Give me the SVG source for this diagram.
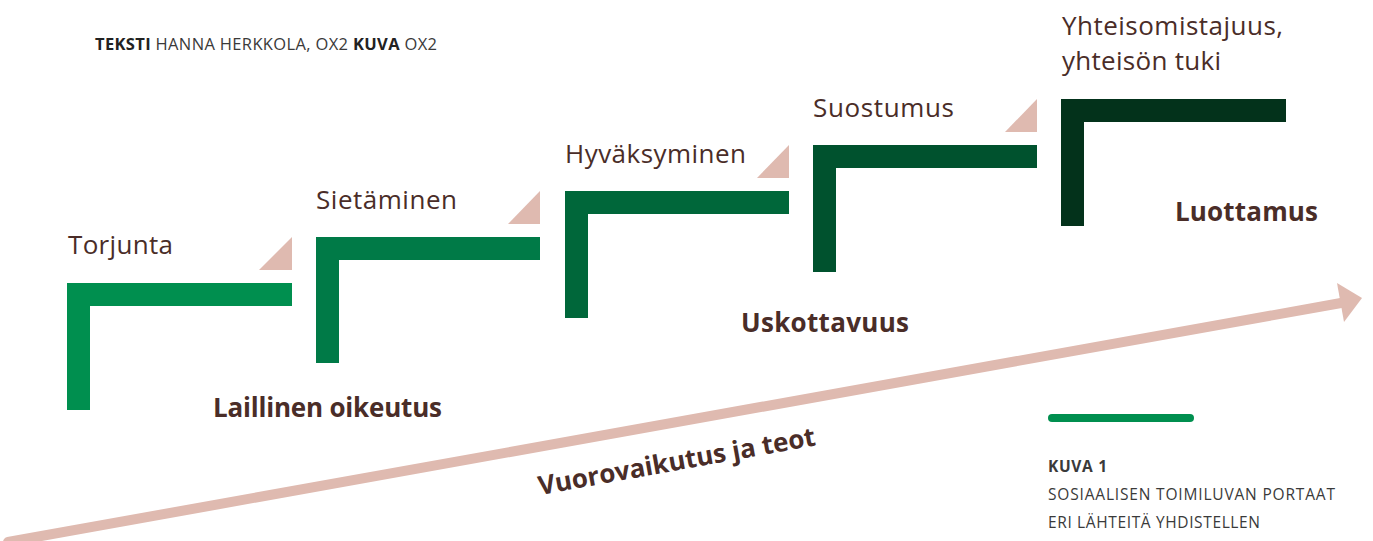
<svg xmlns="http://www.w3.org/2000/svg" width="1373" height="541" viewBox="0 0 1373 541">
<style>
.lbl{font-family:"Open Sans","Liberation Sans",sans-serif;font-size:26px;fill:#4a2d28}
.bold{font-family:"Open Sans","Liberation Sans",sans-serif;font-size:26px;font-weight:700;fill:#4a2d28}
.tri{fill:#dfbab0}
.cap{font-family:"Open Sans","Liberation Sans",sans-serif;font-size:15.5px;fill:#3a3a3a}
</style>
<rect width="1373" height="541" fill="#ffffff"/>
<text class="cap" x="95" y="50" style="font-size:16.5px" textLength="342" lengthAdjust="spacing"><tspan font-weight="700" fill="#222">TEKSTI</tspan> HANNA HERKKOLA, OX2 <tspan font-weight="700" fill="#222">KUVA</tspan> OX2</text>
<g id="connectors">
<line x1="8" y1="542" x2="1341" y2="303" stroke="#dfbab0" stroke-width="10" stroke-linecap="round"/>
<polygon points="1337,283 1362,298 1344,322" fill="#dfbab0"/>
</g>
<g id="step1">
<path d="M67 283 H292 V306 H90 V410 H67 Z" fill="#008f4f"/>
<polygon class="tri" points="259,270 292,237 292,270"/>
<text class="lbl" x="68" y="254" textLength="105" lengthAdjust="spacing">Torjunta</text>
</g>
<g id="step2">
<path d="M316 237 H540 V260 H339 V363 H316 Z" fill="#007a47"/>
<polygon class="tri" points="508,224 540,191 540,224"/>
<text class="lbl" x="316" y="209" textLength="141" lengthAdjust="spacing">Sietäminen</text>
</g>
<g id="step3">
<path d="M565 191 H789 V214 H588 V318 H565 Z" fill="#00673a"/>
<polygon class="tri" points="757,178 789,145 789,178"/>
<text class="lbl" x="565" y="163" textLength="181" lengthAdjust="spacing">Hyväksyminen</text>
</g>
<g id="step4">
<path d="M813 145 H1037 V168 H836 V272 H813 Z" fill="#00522e"/>
<polygon class="tri" points="1005,132 1037,99 1037,132"/>
<text class="lbl" x="813" y="117" textLength="141" lengthAdjust="spacing">Suostumus</text>
</g>
<g id="step5">
<path d="M1061 99 H1286 V122 H1084 V226 H1061 Z" fill="#03321b"/>
<text class="lbl" x="1062" y="35" textLength="221" lengthAdjust="spacing">Yhteisomistajuus,</text>
<text class="lbl" x="1062" y="70" textLength="159" lengthAdjust="spacing">yhteisön tuki</text>
</g>
<g id="labels">
<text class="bold" x="213" y="417" textLength="229" lengthAdjust="spacing">Laillinen oikeutus</text>
<text class="bold" x="741" y="332" textLength="168" lengthAdjust="spacing">Uskottavuus</text>
<text class="bold" x="1175" y="221" textLength="143" lengthAdjust="spacing">Luottamus</text>
<text class="bold" x="540" y="495" transform="rotate(-10.2 540 495)" textLength="281" lengthAdjust="spacing">Vuorovaikutus ja teot</text>
</g>
<g id="caption">
<line x1="1052" y1="418" x2="1190" y2="418" stroke="#008f4f" stroke-width="8" stroke-linecap="round"/>
<text class="cap" x="1048" y="472" font-weight="700" fill="#222" textLength="59" lengthAdjust="spacing">KUVA 1</text>
<text class="cap" x="1048" y="500" textLength="287" lengthAdjust="spacing">SOSIAALISEN TOIMILUVAN PORTAAT</text>
<text class="cap" x="1048" y="528" textLength="212" lengthAdjust="spacing">ERI LÄHTEITÄ YHDISTELLEN</text>
</g>
</svg>
